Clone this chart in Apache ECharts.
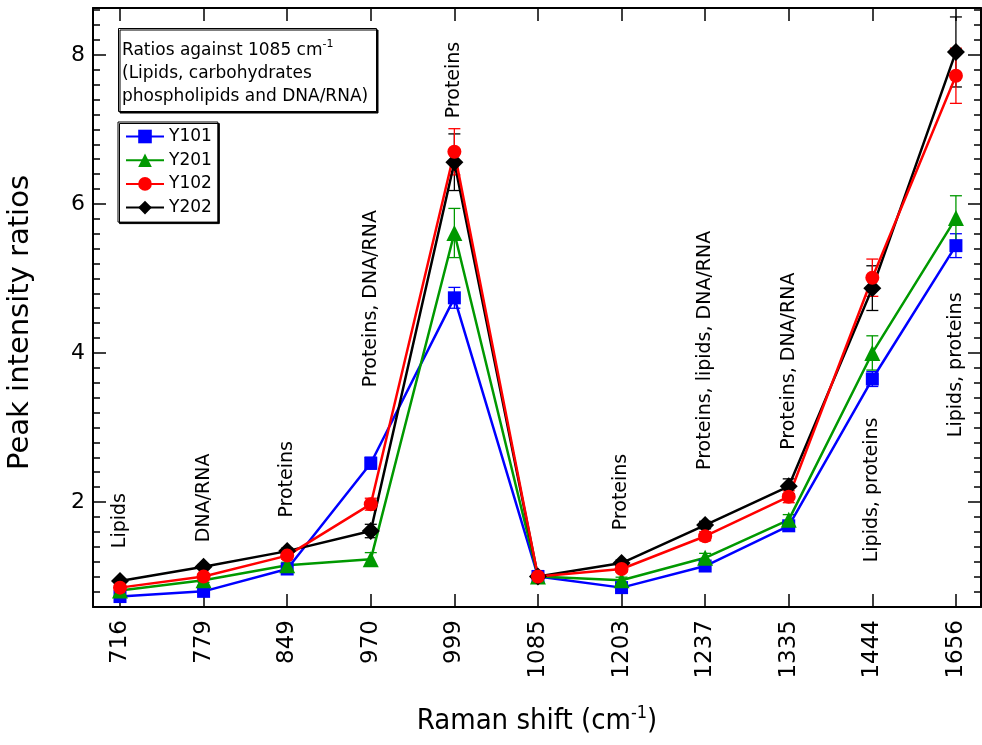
<!DOCTYPE html>
<html>
<head>
<meta charset="utf-8">
<script src="https://cdn.jsdelivr.net/npm/echarts@6/dist/echarts.min.js"></script>
<style>html,body{margin:0;padding:0;background:#fff}#chart{width:982px;height:745px}</style>
</head>
<body>
<div id="chart"></div>
<script>
// Raman shift categories (cm-1)
var shifts = ['716', '779', '849', '970', '999', '1085', '1203', '1237', '1335', '1444', '1656'];

// peak intensity ratios against 1085 cm-1, with error bars
var y101    = [0.73, 0.80, 1.10, 2.52, 4.74, 1.00, 0.85, 1.14, 1.68, 3.65, 5.44];
var y101Err = [0.03, 0.03, 0.04, 0.08, 0.14, 0, 0.04, 0.04, 0.05, 0.10, 0.16];
var y201    = [0.81, 0.95, 1.15, 1.23, 5.61, 1.00, 0.95, 1.25, 1.76, 4.00, 5.81];
var y201Err = [0.03, 0.03, 0.04, 0.09, 0.33, 0, 0.04, 0.06, 0.07, 0.23, 0.30];
var y102    = [0.85, 1.00, 1.28, 1.97, 6.70, 1.00, 1.10, 1.54, 2.07, 5.01, 7.72];
var y102Err = [0.03, 0.04, 0.05, 0.08, 0.31, 0, 0.04, 0.06, 0.08, 0.25, 0.37];
var y202    = [0.94, 1.13, 1.34, 1.61, 6.56, 1.00, 1.18, 1.69, 2.21, 4.87, 8.04];
var y202Err = [0.03, 0.03, 0.04, 0.09, 0.38, 0, 0.04, 0.05, 0.10, 0.30, 0.47];

// band assignments, written upwards starting at noteY
var notes = ['Lipids', 'DNA/RNA', 'Proteins', 'Proteins, DNA/RNA', 'Proteins', null,
             'Proteins', 'Proteins, lipids, DNA/RNA', 'Proteins, DNA/RNA', 'Lipids, proteins', 'Lipids, proteins'];
var noteY = [1.38, 1.46, 1.79, 3.54, 7.15, null, 1.62, 2.43, 2.70, 1.19, 2.87];

var yLabels = [2, 4, 6, 8];

var FONT = '"DejaVu Sans", Verdana, sans-serif';
var NARROW = '"Liberation Sans Narrow", "DejaVu Sans Condensed", sans-serif';
var myChart = echarts.init(document.getElementById('chart'));

var xTicks = shifts.map(function (s, i) { return i; });
var yMinor = [];
for (var k = 3; k <= 43; k++) yMinor.push(Math.round(k * 0.2 * 10) / 10);

function pairs(vals) {
    return vals.map(function (v, i) { return [i, v]; });
}

function lineSeries(name, vals, color, symbol, size) {
    return {
        name: name,
        type: 'line',
        data: pairs(vals),
        symbol: symbol,
        symbolSize: size,
        showAllSymbol: true,
        itemStyle: { color: color },
        lineStyle: { color: color, width: 2.5 },
        emphasis: { disabled: true }
    };
}

function errorSeries(name, vals, errs, color) {
    return {
        name: name + ' err',
        type: 'custom',
        silent: true,
        data: vals.map(function (v, i) { return [i, v - errs[i], v + errs[i]]; }),
        renderItem: function (params, api) {
            var lo = api.coord([api.value(0), api.value(1)]);
            var hi = api.coord([api.value(0), api.value(2)]);
            if (Math.abs(lo[1] - hi[1]) < 0.5) return null;
            var w = 6, st = { stroke: color, lineWidth: 1.3 };
            return {
                type: 'group',
                children: [
                    { type: 'line', shape: { x1: lo[0], y1: lo[1], x2: hi[0], y2: hi[1] }, style: st },
                    { type: 'line', shape: { x1: lo[0] - w, y1: lo[1], x2: lo[0] + w, y2: lo[1] }, style: st },
                    { type: 'line', shape: { x1: hi[0] - w, y1: hi[1], x2: hi[0] + w, y2: hi[1] }, style: st }
                ]
            };
        }
    };
}

var noteData = [];
notes.forEach(function (t, i) {
    if (t) noteData.push({ value: [i, noteY[i]], name: t });
});

var axisLine = { show: true, onZero: false, lineStyle: { color: '#000', width: 2 } };
var noLine = { show: false, onZero: false };
var tickStyle = { color: '#000', width: 1.5 };

function yAxisDef(pos, vals, len, extra) {
    var ax = {
        type: 'value',
        position: pos,
        min: 0.59,
        max: 8.63,
        axisLine: len > 10 ? axisLine : noLine,
        splitLine: { show: false },
        axisTick: { inside: true, length: len, customValues: vals, lineStyle: tickStyle },
        axisLabel: { show: false }
    };
    return Object.assign(ax, extra || {});
}

var option = {
    animation: false,
    backgroundColor: '#fff',
    title: {
        text: 'Ratios against 1085 cm{sup|-1}\n(Lipids, carbohydrates\nphospholipids and DNA/RNA)',
        left: 118,
        top: 28,
        padding: [11, 9, 4, 4],
        borderColor: '#000',
        borderWidth: 1,
        backgroundColor: '#fff',
        shadowColor: '#000',
        shadowOffsetX: 1.5,
        shadowOffsetY: 1.5,
        textStyle: {
            fontFamily: FONT, fontSize: 17, fontWeight: 'normal', color: '#000', lineHeight: 23,
            rich: { sup: { fontFamily: FONT, fontSize: 11, lineHeight: 11, padding: [0, 0, 12, 0], color: '#000' } }
        }
    },
    legend: {
        data: ['Y101', 'Y201', 'Y102', 'Y202'],
        orient: 'vertical',
        left: 118,
        top: 122,
        itemWidth: 38,
        itemHeight: 17,
        itemGap: 6.7,
        padding: [6, 6, 6, 7],
        borderColor: '#000',
        borderWidth: 1,
        backgroundColor: '#fff',
        shadowColor: '#000',
        shadowOffsetX: 1.5,
        shadowOffsetY: 1.5,
        selectedMode: false,
        textStyle: { fontFamily: FONT, fontSize: 17, color: '#000', lineHeight: 17 }
    },
    grid: { left: 93, right: 1, top: 8, bottom: 138, containLabel: false, outerBoundsMode: 'none' },
    xAxis: [{
        type: 'value',
        position: 'bottom',
        min: -0.323,
        max: 10.30,
        axisLine: axisLine,
        splitLine: { show: false },
        axisTick: { inside: true, length: 13, customValues: xTicks, lineStyle: tickStyle },
        axisLabel: {
            customValues: xTicks,
            formatter: function (v) { return shifts[v]; },
            rotate: 90,
            margin: 13,
            fontFamily: FONT,
            fontSize: 23,
            color: '#000'
        },
        name: 'Raman shift (cm{sup|-1})',
        nameLocation: 'middle',
        nameGap: 100,
        nameTextStyle: {
            fontFamily: NARROW,
            fontSize: 29,
            color: '#000',
            rich: { sup: { fontFamily: NARROW, fontSize: 18, lineHeight: 18, padding: [0, 0, 16, 0], color: '#000' } }
        }
    }, {
        type: 'value',
        position: 'top',
        min: -0.323,
        max: 10.30,
        axisLine: axisLine,
        splitLine: { show: false },
        axisTick: { inside: true, length: 13, customValues: xTicks, lineStyle: tickStyle },
        axisLabel: { show: false }
    }],
    yAxis: [
        yAxisDef('left', yLabels, 13, {
            axisLabel: { customValues: yLabels, margin: 8, fontFamily: FONT, fontSize: 22, color: '#000' },
            name: 'Peak intensity ratios',
            nameLocation: 'middle',
            nameGap: 58,
            nameTextStyle: { fontFamily: FONT, fontSize: 29, color: '#000', padding: [0, 30, 0, 0] }
        }),
        yAxisDef('left', yMinor, 7),
        yAxisDef('right', yLabels, 13),
        yAxisDef('right', yMinor, 7)
    ],
    series: [
        {
            type: 'scatter',
            name: 'notes',
            silent: true,
            symbolSize: 0,
            itemStyle: { opacity: 1 },
            data: noteData,
            label: {
                show: true,
                formatter: '{b}',
                position: [0, 0],
                rotate: 90,
                align: 'left',
                verticalAlign: 'middle',
                fontFamily: FONT,
                fontSize: 19,
                color: '#000',
                opacity: 1
            }
        },
        errorSeries('Y101', y101, y101Err, '#0000ff'),
        errorSeries('Y201', y201, y201Err, '#009900'),
        errorSeries('Y202', y202, y202Err, '#000000'),
        errorSeries('Y102', y102, y102Err, '#ff0000'),
        lineSeries('Y101', y101, '#0000ff', 'rect', 13),
        lineSeries('Y201', y201, '#009900', 'triangle', 16),
        lineSeries('Y202', y202, '#000000', 'diamond', 18),
        lineSeries('Y102', y102, '#ff0000', 'circle', 14)
    ]
};

myChart.setOption(option);
</script>
</body>
</html>
